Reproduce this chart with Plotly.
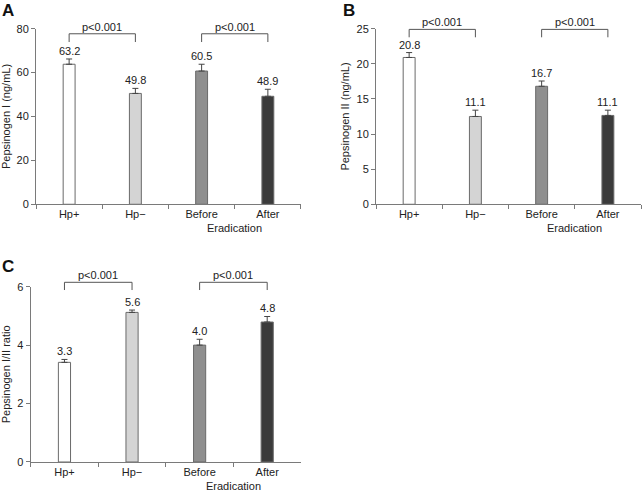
import plotly.graph_objects as go

categories = ["Hp+", "Hp\u2212", "Before", "After"]
bar_colors = ["#ffffff", "#d4d4d4", "#8f8f8f", "#3b3b3b"]

# Panel A: Pepsinogen I (ng/mL)
pg1_mean = [63.8, 50.5, 60.7, 49.2]
pg1_err = [2.4, 2.3, 3.1, 3.2]
pg1_labels = ["63.2", "49.8", "60.5", "48.9"]

# Panel B: Pepsinogen II (ng/mL)
pg2_mean = [20.9, 12.5, 16.8, 12.65]
pg2_err = [0.7, 0.9, 0.75, 0.75]
pg2_labels = ["20.8", "11.1", "16.7", "11.1"]

# Panel C: Pepsinogen I/II ratio
ratio_mean = [3.41, 5.12, 4.0, 4.79]
ratio_err = [0.1, 0.08, 0.2, 0.19]
ratio_labels = ["3.3", "5.6", "4.0", "4.8"]

panels = [
    dict(letter="A", mean=pg1_mean, err=pg1_err, labels=pg1_labels,
         ytitle="Pepsinogen I (ng/mL)", yrange=[0, 80], dtick=20,
         xdom=[0.0560, 0.4681], ydom=[0.5848, 0.9417],
         bracket=0.971, bracket_drop=0.047, letter_xy=(7.5, 11)),
    dict(letter="B", mean=pg2_mean, err=pg2_err, labels=pg2_labels,
         ytitle="Pepsinogen II (ng/mL)", yrange=[0, 25], dtick=5,
         xdom=[0.5848, 0.9969], ydom=[0.5848, 0.9417],
         bracket=0.996, bracket_drop=0.045, letter_xy=(348.5, 11)),
    dict(letter="C", mean=ratio_mean, err=ratio_err, labels=ratio_labels,
         ytitle="Pepsinogen I/II ratio", yrange=[0, 6], dtick=2,
         xdom=[0.0477, 0.4681], ydom=[0.0610, 0.4173],
         bracket=1.025, bracket_drop=0.044, letter_xy=(7.5, 266)),
]

W, H = 643, 492
FONT = "Liberation Sans, Arial, sans-serif"
TXT = "#222222"
AXC = "#7a7a7a"

fig = go.Figure()
layout = dict(
    width=W, height=H, margin=dict(l=0, r=0, t=0, b=0, autoexpand=False),
    paper_bgcolor="white", plot_bgcolor="white", showlegend=False,
    font=dict(family=FONT, size=11, color=TXT),
)
annotations = []
shapes = []

for i, p in enumerate(panels):
    n = "" if i == 0 else str(i + 1)
    xa, ya = "x" + n, "y" + n
    fig.add_trace(go.Bar(
        x=categories, y=p["mean"], xaxis=xa, yaxis=ya, width=0.18,
        marker=dict(color=bar_colors, line=dict(color="#6a6a6a", width=1)),
        error_y=dict(type="data", symmetric=False, array=p["err"],
                     arrayminus=[0] * len(p["err"]), color="#444444",
                     thickness=1, width=3),
        hoverinfo="skip",
    ))
    layout["xaxis" + n] = dict(
        domain=p["xdom"], anchor=ya, type="category", range=[-0.5, 3.5],
        showline=True, linecolor=AXC, linewidth=1, ticks="outside",
        tickson="boundaries", ticklen=4, tickcolor=AXC, showgrid=False,
        tickfont=dict(size=11, color=TXT), zeroline=False, fixedrange=True,
        automargin=False,
    )
    layout["yaxis" + n] = dict(
        domain=p["ydom"], anchor=xa, range=p["yrange"], dtick=p["dtick"],
        showline=True, linecolor=AXC, linewidth=1, ticks="outside",
        ticklen=4, tickcolor=AXC, showgrid=False, zeroline=False,
        tickfont=dict(size=11, color=TXT),
        title=dict(text=p["ytitle"], font=dict(size=11, color=TXT), standoff=4),
        fixedrange=True, automargin=False,
    )
    # value labels above error bars
    for c, m, e, lab in zip(categories, p["mean"], p["err"], p["labels"]):
        annotations.append(dict(
            x=c, y=m + e, xref=xa, yref=ya, text=lab, showarrow=False,
            yanchor="bottom", yshift=0, font=dict(size=11, color=TXT),
        ))
    # significance brackets: (Hp+ vs Hp-) and (Before vs After)
    for a, b in [(0, 1), (2, 3)]:
        top = p["bracket"]
        low = top - p["bracket_drop"]
        shapes.append(dict(
            type="path", xref=xa, yref=ya + " domain",
            path=f"M {a},{low} L {a},{top} L {b},{top} L {b},{low}",
            line=dict(color="#555555", width=1),
        ))
        annotations.append(dict(
            x=(a + b) / 2, y=top, xref=xa, yref=ya + " domain",
            text="p<0.001", showarrow=False, yanchor="bottom", yshift=-1,
            font=dict(size=11, color=TXT),
        ))
    # "Eradication" group label
    annotations.append(dict(
        x=2.5, y=0, xref=xa, yref=ya + " domain", text="Eradication",
        showarrow=False, yanchor="top", yshift=-16,
        font=dict(size=11, color=TXT),
    ))
    # panel letter
    lx, ly = p["letter_xy"]
    annotations.append(dict(
        x=lx / W, y=1 - ly / H, xref="paper", yref="paper", text=f"<b>{p['letter']}</b>",
        showarrow=False, xanchor="center", yanchor="middle",
        font=dict(size=17, color="#111111", family="Liberation Sans, Arial, sans-serif"),
    ))

layout["annotations"] = annotations
layout["shapes"] = shapes
fig.update_layout(**layout)
fig.write_html(
    "out.html",
    config={"displayModeBar": False},
    post_script="document.body.style.margin='0';document.body.style.overflow='hidden';",
)
